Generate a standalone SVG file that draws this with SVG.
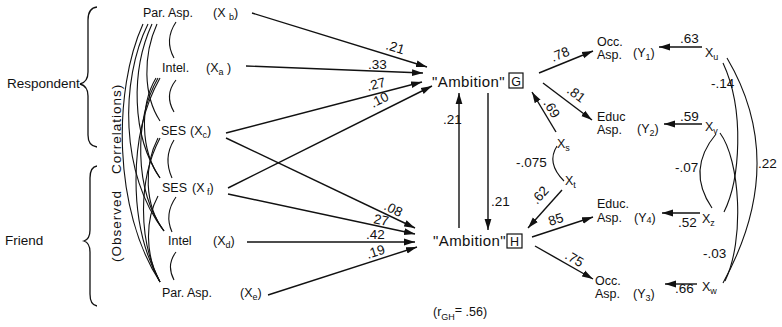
<svg xmlns="http://www.w3.org/2000/svg" width="782" height="327" viewBox="0 0 782 327">
<defs>
<marker id="ah" markerUnits="userSpaceOnUse" markerWidth="12" markerHeight="8" refX="11" refY="4" orient="auto">
<path d="M0,0.6 L11,4 L0,7.4 Z" fill="#111"/>
</marker>
<style>
text{font-family:"Liberation Sans",Arial,sans-serif;fill:#111}
.lbl{font-size:12.5px}
.num{font-size:13.5px}
.big{font-size:15px;letter-spacing:0.4px}
.side{font-size:13.5px}
.sub{font-size:9px}
.ln{stroke:#111;stroke-width:1.3;fill:none}
.arr{stroke:#111;stroke-width:1.4;fill:none;marker-end:url(#ah)}
.cor{stroke:#111;stroke-width:1.1;fill:none}
.box{stroke:#111;stroke-width:1.2;fill:none}
</style>
</defs>
<rect width="782" height="327" fill="#fff"/>

<g id="side-labels">
<text class="side" x="7" y="88">Respondent</text>
<path class="ln" d="M97 7 Q88 8 88 20 L88 72 Q88 82 80 84 Q88 86 88 96 L88 135 Q88 146 97 147"/>
<text class="side" x="5" y="245">Friend</text>
<path class="ln" d="M97 166 Q90 167 90 178 L90 230 Q90 239 84 241 Q90 243 90 252 L90 294 Q90 305 97 306"/>
<text class="side" style="letter-spacing:1px" transform="translate(121,262) rotate(-90)">(Observed</text>
<text class="side" style="letter-spacing:1px" transform="translate(121,174) rotate(-90)">Correlations)</text>
</g>

<g id="Xb"><text class="lbl" x="143" y="17">Par. Asp.</text><text class="lbl" x="213" y="17">(X <tspan class="sub" dy="3">b</tspan><tspan dy="-3">)</tspan></text></g>
<g id="Xa"><text class="lbl" x="162" y="72">Intel.</text><text class="lbl" x="206" y="72">(X<tspan class="sub" dy="3">a</tspan><tspan dy="-3"> )</tspan></text></g>
<g id="Xc"><text class="lbl" x="161" y="135">SES</text><text class="lbl" x="190" y="135">(X<tspan class="sub" dy="3">c</tspan><tspan dy="-3">)</tspan></text></g>
<g id="Xf"><text class="lbl" x="162" y="192">SES</text><text class="lbl" x="192" y="192">(X<tspan class="sub" dy="3"> f</tspan><tspan dy="-3">)</tspan></text></g>
<g id="Xd"><text class="lbl" x="168" y="245">Intel</text><text class="lbl" x="213" y="245">(X<tspan class="sub" dy="3">d</tspan><tspan dy="-3">)</tspan></text></g>
<g id="Xe"><text class="lbl" x="162" y="297">Par. Asp.</text><text class="lbl" x="240" y="297">(X<tspan class="sub" dy="3">e</tspan><tspan dy="-3">)</tspan></text></g>

<g id="G"><text class="big" x="432" y="87">"Ambition"</text><rect class="box" x="509" y="73" width="14" height="15"/><text class="lbl" x="516" y="85.5" text-anchor="middle">G</text></g>
<g id="H"><text class="big" x="433" y="246">"Ambition"</text><rect class="box" x="507" y="234" width="15" height="14"/><text class="lbl" x="514.5" y="246" text-anchor="middle">H</text></g>

<g id="Y1"><text class="lbl" x="597" y="46">Occ.</text><text class="lbl" x="597" y="59">Asp.</text><text class="lbl" x="633" y="57">(Y<tspan class="sub" dy="3">1</tspan><tspan dy="-3">)</tspan></text></g>
<g id="Y2"><text class="lbl" x="597" y="121">Educ</text><text class="lbl" x="597" y="134">Asp.</text><text class="lbl" x="637" y="133">(Y<tspan class="sub" dy="3">2</tspan><tspan dy="-3">)</tspan></text></g>
<g id="Y4"><text class="lbl" x="597" y="208">Educ.</text><text class="lbl" x="597" y="222">Asp.</text><text class="lbl" x="634" y="222">(Y<tspan class="sub" dy="1">4</tspan><tspan dy="-1">)</tspan></text></g>
<g id="Y3"><text class="lbl" x="595" y="285">Occ.</text><text class="lbl" x="595" y="298">Asp.</text><text class="lbl" x="633" y="298">(Y<tspan class="sub" dy="3">3</tspan><tspan dy="-3">)</tspan></text></g>

<g id="Xs"><text class="lbl" x="557" y="148">X<tspan class="sub" dy="3">s</tspan></text></g>
<g id="Xt"><text class="lbl" x="565" y="185">X<tspan class="sub" dy="3">t</tspan></text></g>
<g id="Xu"><text class="lbl" x="705" y="57">X<tspan class="sub" dy="3">u</tspan></text></g>
<g id="Xv"><text class="lbl" x="705" y="131">X<tspan class="sub" dy="3">v</tspan></text></g>
<g id="Xz"><text class="lbl" x="702" y="223">X<tspan class="sub" dy="3">z</tspan></text></g>
<g id="Xw"><text class="lbl" x="702" y="291">X<tspan class="sub" dy="3">w</tspan></text></g>

<g id="rGH"><text class="lbl" x="433" y="316">(r<tspan class="sub" dy="4">GH</tspan><tspan dy="-6">=</tspan><tspan dy="2"> .56)</tspan></text></g>

<g id="connectors">
<path class="arr" d="M252 13 L427 67"/>
<path class="arr" d="M246 66 L423 73"/>
<path class="arr" d="M226 133 L422 82"/>
<path class="arr" d="M228 188 L432 86"/>
<path class="arr" d="M226 138 L415 228"/>
<path class="arr" d="M228 194 L415 234"/>
<path class="arr" d="M247 242 L415 242"/>
<path class="arr" d="M268 295 L417 247"/>
<path class="arr" d="M459 228 L459 93"/>
<path class="arr" d="M488 93 L488 230"/>
<path class="arr" d="M539 73 L593 51"/>
<path class="arr" d="M543 83 L592 120"/>
<path class="arr" d="M556 132 L532 92"/>
<path class="arr" d="M562 190 L528 228"/>
<path class="arr" d="M532 237 L593 217"/>
<path class="arr" d="M535 246 L593 279"/>
<path class="arr" d="M702 47 L659 47"/>
<path class="arr" d="M702 124 L664 124"/>
<path class="arr" d="M700 213 L662 213"/>
<path class="arr" d="M697 284 L665 284"/>
<path class="cor" d="M557 146 Q546 163 564 181"/>
<path class="cor" d="M727 58 Q789 163 723 283"/>
<path class="cor" d="M723 63 C745 110 740 180 724 212"/>
<path class="cor" d="M720 133 C740 160 745 240 725 281"/>
<path class="cor" d="M716 134 Q686 170 712 208"/>
<path class="cor" d="M176 22 Q164 40 174 58"/>
<path class="cor" d="M176 80 Q164 95 174 112"/>
<path class="cor" d="M174 140 Q163 158 172 178"/>
<path class="cor" d="M176 197 Q164 214 172 232"/>
<path class="cor" d="M176 252 Q166 265 174 280"/>
<path class="cor" d="M157 24 C143 55 143 95 160 121"/>
<path class="cor" d="M152 24 C131 70 131 135 160 178"/>
<path class="cor" d="M148 24 C120 80 120 175 164 231"/>
<path class="cor" d="M143 24 C113 90 113 210 160 282"/>
<path class="cor" d="M156 78 C140 105 140 150 160 178"/>
<path class="cor" d="M158 78 C134 120 134 190 164 231"/>
<path class="cor" d="M160 78 C128 135 128 225 160 282"/>
<path class="cor" d="M158 138 C144 165 144 205 164 231"/>
<path class="cor" d="M160 138 C138 180 138 240 160 282"/>
<path class="cor" d="M158 196 C145 220 145 255 160 282"/>
</g>

<g id="coefficients">
<text class="num" transform="translate(385,49) rotate(17)">.21</text>
<text class="num" x="368" y="69">.33</text>
<text class="num" transform="translate(368,91) rotate(-14)">.27</text>
<text class="num" transform="translate(373,108) rotate(-26)">.10</text>
<text class="num" transform="translate(383,209) rotate(26)">.08</text>
<text class="num" transform="translate(373,223) rotate(12)">27</text>
<text class="num" x="366" y="239">.42</text>
<text class="num" transform="translate(368,259) rotate(-18)">.19</text>
<text class="num" x="443" y="124">.21</text>
<text class="num" x="491" y="206">.21</text>
<text class="num" transform="translate(553,62) rotate(-22)">.78</text>
<text class="num" transform="translate(566,92) rotate(37)">.81</text>
<text class="num" transform="translate(543,103) rotate(59)">.69</text>
<text class="num" x="516" y="167">-.075</text>
<text class="num" transform="translate(537,205) rotate(-48)">.62</text>
<text class="num" transform="translate(550,226) rotate(-18)">85</text>
<text class="num" transform="translate(564,258) rotate(30)">.75</text>
<text class="num" x="680" y="43">.63</text>
<text class="num" x="680" y="121">.59</text>
<text class="num" x="678" y="227">.52</text>
<text class="num" x="675" y="293">.66</text>
<text class="num" x="711" y="88">-.14</text>
<text class="num" x="675" y="172">-.07</text>
<text class="num" x="703" y="258">-.03</text>
<text class="num" x="758" y="168">.22</text>
</g>
</svg>
